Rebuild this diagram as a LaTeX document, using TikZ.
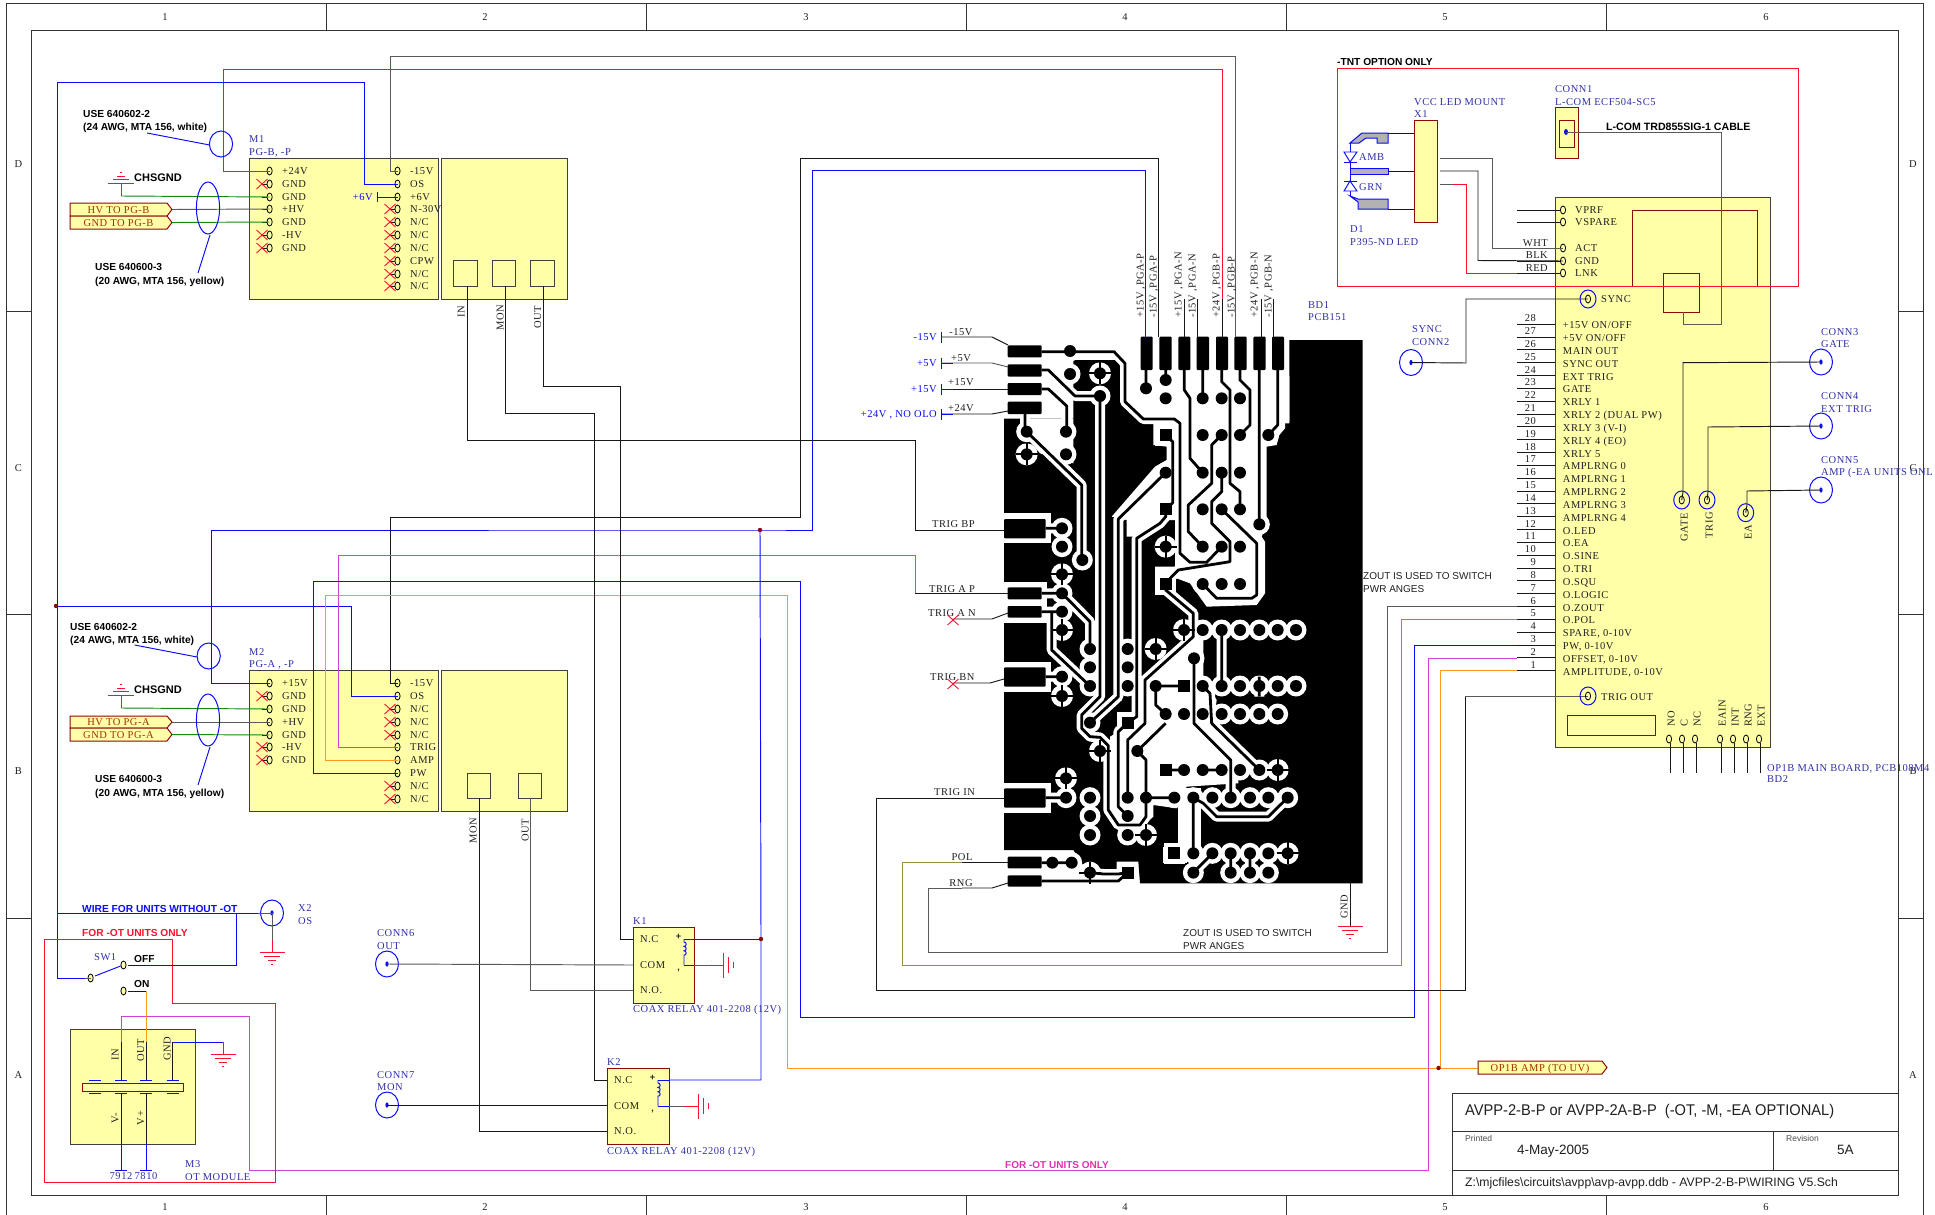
\documentclass[tikz,border=0pt]{standalone}
\usepackage{fontspec}
\setmainfont{Liberation Serif}[LetterSpace=5]
\newfontfamily\hs{Liberation Sans}
\newfontfamily\hsn{Liberation Sans}[FakeStretch=.945]
\newcounter{nn}
\definecolor{wy}{HTML}{FFFFA8}
\definecolor{dr}{HTML}{8A0A0A}
\definecolor{nv}{HTML}{3030A8}
\definecolor{tx}{HTML}{202020}
\definecolor{wb}{HTML}{0A0AFF}
\definecolor{wg}{HTML}{5A5A5A}
\definecolor{wr}{HTML}{FF1030}
\definecolor{wm}{HTML}{D040D8}
\definecolor{wo}{HTML}{FF9A20}
\definecolor{wgn}{HTML}{108A10}
\definecolor{wol}{HTML}{A08A40}
\definecolor{tg}{HTML}{A03000}
\tikzset{
 lab/.style={anchor=west,inner sep=0pt,text height=7pt,text depth=0pt,text=tx,font=\fontsize{10.5}{11}\selectfont},
 blu/.style={lab,text=nv},
 bblu/.style={lab,text=wb},
 bld/.style={lab,font=\hs\bfseries\fontsize{10.2}{11}\selectfont,text=black},
 rt/.style={lab,anchor=center,rotate=90},
 box/.style={draw=black!75,fill=wy,line width=1pt},
 rbox/.style={draw=dr,fill=wy,line width=1pt},
 wire/.style={line width=.95pt,line join=miter},
 wk/.style={wire,draw=black!90},
 wgy/.style={wire,draw=wg},
 wbl/.style={wire,draw=wb},
 wrd/.style={wire,draw=wr},
 wmg/.style={wire,draw=wm},
 wor/.style={wire,draw=wo},
 wgr/.style={wire,draw=wgn},
 wolv/.style={wire,draw=wol},
 pinst/.style={draw=black,line width=.8pt,fill=none},
 ring/.style={draw=wb,line width=1pt,fill=none},
 xx/.style={draw=wr,line width=.9pt},
}
\newcommand{\lb}[4][lab]{\stepcounter{nn}\node[#1,name=n\thenn] at (#2,#3) {#4};}
\newcommand{\pin}[3]{\coordinate (#1) at (#2,#3);\draw[pinst,fill=wy] (#2,#3) ellipse [x radius=2.6pt,y radius=4pt];}
\newcommand{\xm}[2]{\draw[xx] (#1-5.5,#2-5) -- (#1+5.5,#2+5) (#1-5.5,#2+5) -- (#1+5.5,#2-5);}
\newcommand{\gnd}[2]{\draw[draw=wr,line width=.9pt] (#1-12.5,#2) -- (#1+12.5,#2) (#1-8,#2+4) -- (#1+8,#2+4) (#1-4,#2+8) -- (#1+4,#2+8) (#1-1,#2+12) -- (#1+1,#2+12);}
\newcommand{\gndup}[2]{\draw[draw=wr,line width=.9pt] (#1-13,#2) -- (#1+13,#2) (#1-8,#2-3.5) -- (#1+8,#2-3.5) (#1-4,#2-7) -- (#1+4,#2-7) (#1-1,#2-11) -- (#1+1,#2-11);}
\newcommand{\gndr}[2]{\draw[draw=wr,line width=.9pt] (#1,#2-12.5) -- (#1,#2+12.5) (#1+5,#2-8) -- (#1+5,#2+8) (#1+10,#2-3) -- (#1+10,#2+3);}
\newcommand{\conn}[3]{\coordinate (#1) at (#2,#3);\draw[ring] (#2,#3) ellipse [x radius=11.5pt,y radius=13pt];\fill[wb] (#2,#3) ellipse [x radius=1.6pt,y radius=2.6pt];}
\newcommand{\cpin}[3]{\coordinate (#1) at (#2,#3);\draw[ring] (#2,#3) ellipse [x radius=8pt,y radius=9pt];\draw[pinst] (#2,#3) ellipse [x radius=2.6pt,y radius=4pt];}
\newcommand{\tagbox}[5]{\draw[draw=dr,fill=wy,line width=1pt] (#1,#2) -- (#3-5,#2) -- (#3,{(#2+#4)/2}) -- (#3-5,#4) -- (#1,#4) -- cycle;
 \stepcounter{nn}\node[lab,anchor=center,text=tg,name=n\thenn] at ({(#1+#3-5)/2},{(#2+#4)/2}) {#5};}
\newcommand{\coil}[2]{\draw[wbl] (#1,#2) -- ++(0,3) arc[start angle=90,end angle=-90,radius=2.2pt] arc[start angle=90,end angle=-90,radius=2.2pt] arc[start angle=90,end angle=-90,radius=2.2pt] -- ++(0,10);}
\begin{document}
\begin{tikzpicture}[x=1pt,y=-1pt]
\useasboundingbox (0,0) rectangle (1935,1215);
\fill[white] (0,0) rectangle (1935,1215);
% ---- frame
\draw[black!80,line width=1pt] (6,4) -- (1923,4) -- (1923,1216) (6,4) -- (6,1216);
\draw[black!80,line width=1pt] (31,31) rectangle (1898,1195);
\foreach \x in {326,646,966,1286,1606} {\draw[black!80,line width=1pt] (\x,4) -- (\x,31) (\x,1195) -- (\x,1216);}
\foreach \y in {311,614,918} {\draw[black!80,line width=1pt] (6,\y) -- (31,\y) (1898,\y) -- (1923,\y);}
\foreach \x/\t in {165/1,485/2,806/3,1125/4,1445/5,1766/6} {\lb[lab,anchor=center]{\x}{17}{\t}\lb[lab,anchor=center]{\x}{1207}{\t}}
\foreach \y/\t in {164/D,468/C,771/B,1075/A} {\lb[lab,anchor=center]{18.5}{\y}{\t}\lb[lab,anchor=center]{1913}{\y}{\t}}
% ---- PCB artwork
\begin{scope}[shift={(990,320)},x=.33333pt,y=-.33333pt]
 \fill[black] (42,296) -- (250,296) -- (250,120) -- (385,120) -- (395,135) -- (395,250) -- (450,305) -- (898,305) -- (898,60) -- (1118,60) -- (1118,1690) -- (450,1690) -- (445,1625) -- (380,1625) -- (380,1652) -- (290,1652) -- (250,1590) -- (42,1590) -- cycle;
 \fill[white] (460,300) -- (885,300) -- (885,325) -- (868,345) -- (860,375) -- (830,380) -- (830,610) -- (815,650) -- (825,665) -- (825,820) -- (800,855) -- (650,860) -- (600,790) -- (560,775) -- (560,760) -- (495,760) -- (495,740) -- (555,740) -- (555,600) -- (510,600) -- (445,650) -- (410,650) -- (410,600) -- (365,590) -- (495,440) -- (530,420) -- (530,380) -- (490,375) -- (490,310) -- cycle;
 \fill[white] (898,168) -- (885,170) -- (885,310) -- (898,310) -- cycle;
 \fill[white] (90,296) -- (250,296) -- (250,430) -- (150,400) -- (100,340) -- cycle;
 \fill[white] (40,580) -- (182,580) -- (182,670) -- (40,670) -- cycle;
 \fill[white] (40,785) -- (170,785) -- (170,908) -- (40,908) -- cycle;
 \fill[white] (40,1025) -- (182,1025) -- (182,1115) -- (40,1115) -- cycle;
 \fill[white] (40,1388) -- (182,1388) -- (182,1480) -- (40,1480) -- cycle;
 \fill[white] (470,1080) -- (615,950) -- (640,940) -- (640,1080) -- (680,1140) -- (670,1210) -- (790,1320) -- (745,1370) -- (745,1390) -- (590,1400) -- (565,1440) -- (560,1465) -- (490,1455) -- (490,1490) -- (450,1525) -- (385,1525) -- (360,1480) -- (360,1250) -- (395,1230) -- (440,1180) -- (470,1210) -- cycle;
 \fill[white] (565,1405) rectangle (632,1590);
 \fill[white] (520,1580) rectangle (590,1630);
 \def\pcbtraces{
  (155,95) -- (372,95) -- (405,130) -- (405,245) -- (460,297) -- (553,297) -- (570,310) -- (570,700) -- (600,727) -- (650,727) -- (695,680)
  (155,150) -- (175,150) -- (255,228) -- (330,228)
  (155,207) -- (175,207) -- (230,258) -- (230,335)
  (105,282) -- (105,335)
  (110,335) -- (275,495) -- (275,720)
  (330,228) -- (330,1130) -- (275,1185) -- (275,1225) -- (300,1250) -- (330,1252) -- (355,1277) -- (355,1470) -- (385,1515) -- (450,1515) -- (468,1490) -- (468,1433)
  (527,458) -- (385,597) -- (385,1130) -- (300,1208)
  (527,345) -- (548,365) -- (548,548) -- (527,568)
  (527,568) -- (527,590) -- (510,610) -- (440,655) -- (440,1190) -- (413,1208) -- (385,1235) -- (385,1460) -- (413,1488)
  (527,792) -- (527,810) -- (610,880) -- (610,950) -- (465,1080) -- (465,1210) -- (413,1260) -- (413,1433)
  (612,1015) -- (612,1210) -- (722,1320) -- (722,1433)
  (638,1098) -- (660,1120) -- (665,1210) -- (808,1350)
  (695,930) -- (695,1098)
  (497,1098) -- (582,1098)
  (497,1098) -- (497,1155) -- (527,1182)
  (527,1210) -- (442,1293) -- (468,1320) -- (468,1433) -- (553,1433)
  (527,1350) -- (582,1350) (638,1350) -- (695,1350)
  (610,1433) -- (610,1600) (610,1658) -- (667,1600) (722,1600) -- (722,1658) (780,1600) -- (780,1658)
  (610,1433) -- (640,1450) -- (680,1490) -- (835,1490) -- (893,1433)
  (185,875) -- (185,990) -- (300,1098)
  (216,820) -- (300,905) -- (300,987)
  (216,625) -- (167,625) (216,1070) -- (167,1070) (228,1433) -- (167,1433) (216,875) -- (155,875) (216,820) -- (155,820)
  (155,1628) -- (245,1628) (300,1658) -- (340,1662) -- (385,1662) -- (413,1658)
  (155,1683) -- (385,1683) -- (413,1658)
  (468,205) -- (468,150) (527,180) -- (527,150)
  (583,150) -- (583,210) -- (600,235) -- (600,415) -- (638,458)
  (638,150) -- (638,235)
  (695,150) -- (695,185) -- (720,210) -- (720,490) -- (750,515) -- (750,568)
  (750,150) -- (750,180) -- (780,210) -- (780,315) -- (750,345)
  (808,150) -- (808,613)
  (863,150) -- (863,315) -- (835,345)
  (695,345) -- (665,375) -- (665,490) -- (595,555) -- (595,635) -- (638,680)
  (695,458) -- (695,515) -- (665,545) -- (665,610) -- (720,665) -- (720,725) -- (565,750) -- (545,770) -- (527,792)
  (695,568) -- (800,670) -- (800,825) -- (785,835) -- (680,835) -- (638,792)
  (808,1070) -- (808,1130)
 }
 \draw[white,line width=10pt,line join=bevel] \pcbtraces;
 \def\pcbpads{240/93,240/162,330/228,110/335,228/335,228/403,468/205,527/180,527/235,638/235,695/235,750/235,638/345,695/345,750/345,835/345,527/458,638/458,695/458,750/458,638/568,695/568,750/568,808/613,638/680,695/680,750/680,638/792,695/792,750/792,216/625,216/680,277/720,216/820,216/875,300/987,300/1042,300/1098,413/987,413/1042,413/1098,216/1070,300/1208,442/1293,638/930,695/930,750/930,808/930,863/930,918/930,612/1015,497/1098,638/1098,695/1098,750/1098,808/1098,863/1098,918/1098,527/1182,582/1182,638/1182,695/1182,750/1182,808/1182,863/1182,582/1350,638/1350,695/1350,750/1350,808/1350,413/1433,468/1433,553/1433,610/1433,667/1433,722/1433,780/1433,835/1433,893/1433,228/1433,300/1433,300/1488,300/1545,413/1488,413/1545,610/1600,667/1600,722/1600,780/1600,835/1600,610/1658,722/1658,780/1658,835/1658,187/1628,245/1628}
 \def\pcbth{330/160,110/403,527/680,216/763,216/930,497/987,582/930,216/1128,330/1293,863/1350,228/1375,468/1545,893/1600,300/1658}
 \def\pcbsq{527/345,527/568,527/792,582/1098,413/1208,527/1350,553/1600,413/1658}
 \foreach \a/\b in \pcbpads {\fill[white] (\a,\b) circle [radius=10.5pt];}
 \foreach \a/\b in \pcbth {\fill[white] (\a,\b) circle [radius=11pt];}
 \foreach \a/\b in \pcbsq {\fill[white] (\a-32,\b-32) rectangle (\a+32,\b+32);}
 % connector pads halo
 \fill[white] (40,68) rectangle (167,295);
 \foreach \xa/\ya/\xb/\yb in {53/76/155/112,53/133/155/170,53/189/155/225,53/245/155/282,42/597/167/655,53/802/155/838,53/858/155/893,42/1042/167/1100,42/1405/167/1463,53/1610/155/1645,53/1666/155/1700,452/50/488/150,508/50/545/150,565/50/601/150,620/50/657/150,678/50/714/150,733/50/770/150,790/50/827/150,846/50/882/150} {\fill[black,rounded corners=1pt] (\xa,\ya) rectangle (\xb,\yb);}
 \draw[black,line width=2.8pt,line join=bevel] \pcbtraces;
 \foreach \a/\b in \pcbpads {\fill[black] (\a,\b) circle [radius=6pt];}
 \foreach \a/\b in \pcbth {\fill[black] (\a,\b) circle [radius=6pt];\draw[black,line width=2pt] (\a-33,\b) -- (\a+33,\b) (\a,\b-33) -- (\a,\b+33);}
 \foreach \a/\b in \pcbsq {\fill[black] (\a-18,\b-18) rectangle (\a+18,\b+18);}
\end{scope}
% ---- boxes
\fill[box] (249,158) rectangle (438,299);
\fill[box] (441,158) rectangle (567,299);
\fill[box] (453.6,260) rectangle (477.5,286);
\fill[box] (492.5,260) rectangle (515.7,286);
\fill[box] (530,260) rectangle (554,286);
\fill[box] (249,670) rectangle (438,811);
\fill[box] (441,670) rectangle (567,811);
\fill[box] (467,773) rectangle (490,798);
\fill[box] (518,773) rectangle (541,798);
\fill[box] (70,1029) rectangle (195,1144);
\fill[rbox] (633,927) rectangle (694,1003);
\fill[rbox] (607,1068) rectangle (669,1144);
\fill[box] (1555,197) rectangle (1770,747);
\fill[rbox] (1414,120) rectangle (1437,222);
\fill[rbox] (1555,107) rectangle (1578,158);
\fill[rbox] (1559,120) rectangle (1574,147);
\draw[dr,line width=1pt] (1632,286) -- (1632,210) -- (1757,210) -- (1757,286);
\draw[dr,line width=1pt] (1663,273) rectangle (1699,312);
\draw[dr,line width=1pt] (1567,715) rectangle (1655,735);
% ---- pins M1/M2
\foreach \i/\y in {1/171,2/184,3/197,4/209,5/222,6/235,7/248,8/261,9/274,10/286} {\pin{m1r\i}{397.5}{\y}\draw[wk] (390,\y) -- (395,\y);}
\foreach \i/\y in {1/171,2/184,3/197,4/209,5/222,6/235,7/248} {\pin{m1l\i}{269.6}{\y}\draw[wk] (262,\y) -- (267,\y);}
\foreach \i/\y in {1/683,2/696,3/709,4/722,5/735,6/747,7/760,8/773,9/786,10/799} {\pin{m2r\i}{397.5}{\y}\draw[wk] (390,\y) -- (395,\y);}
\foreach \i/\y in {1/683,2/696,3/709,4/722,5/735,6/747,7/760} {\pin{m2l\i}{269.6}{\y}\draw[wk] (262,\y) -- (267,\y);}
\foreach \y in {184,235,248,696,747,760} {\xm{262}{\y}}
\foreach \y in {209,222,235,248,261,274,286,709,722,735,786,799} {\xm{390}{\y}}
\foreach \y/\t in {171/+24V,184/GND,197/GND,209/+HV,222/GND,235/-HV,248/GND,683/+15V,696/GND,709/GND,722/+HV,735/GND,747/-HV,760/GND} {\lb{282}{\y}{\t}}
\foreach \y/\t in {171/-15V,184/OS,197/+6V,209/N-30V,222/{N/C},235/{N/C},248/{N/C},261/CPW,274/{N/C},286/{N/C},683/-15V,696/OS,709/{N/C},722/{N/C},735/{N/C},747/TRIG,760/AMP,773/PW,786/{N/C},799/{N/C}} {\lb{410}{\y}{\t}}
\lb[blu]{249}{139}{M1}\lb[blu]{249}{152}{PG-B, -P}
\lb[blu]{249}{652}{M2}\lb[blu]{249}{664}{PG-A , -P}
\lb[rt]{461}{312}{IN}\lb[rt]{500}{318}{MON}\lb[rt]{537.5}{317}{OUT}
\lb[rt]{473}{831}{MON}\lb[rt]{525}{830}{OUT}
\lb[blu,anchor=east,text=wb]{373}{197}{+6V}
\coordinate (p6v) at (377.5,197);
\draw[wbl] (377.5,192) -- (377.5,202);
\draw[wbl] (p6v) -- (m1r3);
% ---- cable notes
\lb[bld]{83}{114}{USE 640602-2}\lb[bld]{83}{127}{(24 AWG, MTA 156, white)}
\lb[bld]{95}{267}{USE 640600-3}\lb[bld]{95}{281}{(20 AWG, MTA 156, yellow)}
\lb[bld]{70}{627}{USE 640602-2}\lb[bld]{70}{640}{(24 AWG, MTA 156, white)}
\lb[bld]{95}{779}{USE 640600-3}\lb[bld]{95}{793}{(20 AWG, MTA 156, yellow)}
\lb[bld,font=\hs\bfseries\fontsize{11}{11}\selectfont]{134}{178}{CHSGND}\lb[bld,font=\hs\bfseries\fontsize{11}{11}\selectfont]{134}{690}{CHSGND}
\gndup{121.4}{183}\gndup{121.4}{695}
\tagbox{70}{203}{172}{216}{HV TO PG-B}\tagbox{70}{216}{172}{229}{GND TO PG-B}
\tagbox{70}{716}{172}{728}{HV TO PG-A}\tagbox{70}{728}{172}{741}{GND TO PG-A}
\coordinate (g1) at (121.4,183);\coordinate (g2) at (121.4,695);
\coordinate (t1) at (172,209.5);\coordinate (t2) at (172,222.5);\coordinate (t3) at (172,722);\coordinate (t4) at (172,734.5);
\draw[wr] (g1) -- (121.4,196);\draw[wr] (g2) -- (121.4,708);
\draw[wgr] (121.4,196) -- (m1l3);\draw[wgr] (121.4,708) -- (m2l3);
\draw[wgy] (t1) -- (m1l4);\draw[wgr] (t2) -- (m1l5);\draw[wgy] (t3) -- (m2l4);\draw[wgr] (t4) -- (m2l5);
% ---- long wires
\draw[wrd] (m1l1) -- (223,171) -- (223,69) -- (1222,69) -- (1222,299);
\draw[wk] (1222,299) -- (1222,337);
\draw[wgy] (m1r1) -- (390,171) -- (390,56) -- (1235,56) -- (1235,337);
\draw[wbl] (m1r2) -- (364,184) -- (364,82) -- (57,82) -- (57,978) -- (85,978);
\coordinate (jl) at (56,606);\coordinate (jm) at (760,530);\coordinate (jk) at (761,939);\coordinate (ja) at (1438.5,1068);
\draw[wbl] (m2r2) -- (351,696) -- (351,606) -- (jl);
\draw[wbl] (m2l1) -- (211,683) -- (211,530) -- (jm) -- (812,530) -- (812,170) -- (1145,170) -- (1145,337);
\draw[wk] (m2r1) -- (390,683) -- (390,517) -- (800,517) -- (800,158) -- (1158,158) -- (1158,337);
\draw[wmg] (m2r6) -- (338.6,747) -- (338.6,555) -- (915,555) -- (915,593);
\draw[wk] (915,593) -- (1008,593);
\draw[wor] (m2r7) -- (325.7,760) -- (325.7,595) -- (787,595) -- (787,1068) -- (ja);
\draw[wbl] (m2r8) -- (313,773) -- (313,581) -- (800,581) -- (800,1017) -- (1414,1017) -- (1414,645) -- (1517,645);
\draw[wmg] (1517,658) -- (1428,658) -- (1428,1170) -- (249.5,1170) -- (249.5,1016) -- (121,1016) -- (121,1042);
\draw[wor] (ja) -- (1440,1068) -- (1440,670.5) -- (1517,670.5);
\draw[wor] (ja) -- (1478,1068);
\draw[wolv] (962,862) -- (902,862) -- (902,965) -- (1401,965) -- (1401,619) -- (1517,619);
\draw[wk] (962,862) -- (1008,862);
\draw[wgy] (962,888) -- (928,888) -- (928,952) -- (1387,952) -- (1387,606) -- (1517,606);
\draw[wk] (962,888) -- (992,888) -- (1008,883);
\draw[wk] (1004,798) -- (876,798) -- (876,990) -- (1465,990) -- (1465,696);
\draw[wgy] (1465,696) -- (1588,696);
\draw[wk] (467,286) -- (467,440) -- (915,440) -- (915,530) -- (1004,530);
\draw[wk] (505,286) -- (505,413) -- (594.7,413) -- (594.7,1080) -- (607,1080);
\draw[wk] (543.6,286) -- (543.6,386) -- (620,386) -- (620,939) -- (633,939);
\draw[wk] (479.6,798) -- (479.6,1131) -- (607,1131);
\draw[wgy] (530.7,798) -- (530.7,990) -- (633,990);
\draw[wbl] (jm) -- (jk) -- (761,1080) -- (670,1080);
\draw[wbl] (694,939) -- (jk);
\fill[dr] (jl) circle [radius=2.2pt];\fill[dr] (jm) circle [radius=2.2pt];\fill[dr] (jk) circle [radius=2.2pt];\fill[dr] (ja) circle [radius=2.2pt];
% ---- PCB left labels
\foreach \y/\yy/\t/\b in {337/332/-15V/-15V,363/358/+5V/+5V,389/382/+15V/+15V,414/408/+24V/{+24V , NO OLO}} {\lb[bblu,anchor=east]{937}{\y}{\b}\draw[wbl] (941,\y-5.5) -- (941,\y+5.5);\lb[lab,anchor=center]{961}{\yy}{\t}}
\draw[wk] (941,337) -- (992,337) -- (1008,345);
\draw[wgy] (941,363) -- (992,363) -- (1008,367);
\draw[wk] (941,389) -- (1008,389);
\draw[wk] (941,414) -- (992,414) -- (1008,411);
\draw[wbl] (941,363) -- (953,363) (941,389) -- (953,389) (941,414) -- (953,414);
\lb{932}{524}{TRIG BP}\lb{929}{589}{TRIG A P}\lb{928}{613}{TRIG A N}\lb{930}{677}{TRIG BN}\lb{934}{792}{TRIG IN}
\lb[lab,anchor=center]{962}{857}{POL}\lb[lab,anchor=center]{961}{883}{RNG}
\coordinate (xa) at (953,619);\coordinate (xb) at (953,683);
\draw[wk] (xa) -- (992,619) -- (1008,613);
\draw[wk] (xb) -- (990,683) -- (1004,679);
\xm{953}{620}\xm{953}{684}
\foreach \x/\t in {1140/{+15V ,PGA-P},1153/{-15V ,PGA-P},1178/{+15V ,PGA-N},1192/{-15V ,PGA-N},1216/{+24V ,PGB-P},1231/{-15V ,PGB-P},1254/{+24V ,PGB-N},1268/{-15V ,PGB-N}} {\lb[rt,anchor=west]{\x}{318}{\t}}
\foreach \x in {1184,1197,1261,1273} {\draw[wk] (\x,299) -- (\x,337);}
\lb[blu]{1308}{305}{BD1}\lb[blu]{1308}{317}{PCB151}
\lb[rt]{1344}{907}{GND}
\draw[wk] (1350,883) -- (1350,926);\gnd{1350}{926}
\lb[lab,font=\hs\fontsize{10}{11}\selectfont]{1183}{933}{ZOUT IS USED TO SWITCH}\lb[lab,font=\hs\fontsize{10}{11}\selectfont]{1183}{946}{PWR ANGES}
\lb[lab,font=\hs\fontsize{10}{11}\selectfont]{1363}{576}{ZOUT IS USED TO SWITCH}\lb[lab,font=\hs\fontsize{10}{11}\selectfont]{1363}{589}{PWR ANGES}
% ---- relays
\foreach \n/\x/\y/\t in {1/633/921/K1,2/607/1062/K2} {\lb[blu]{\x}{\y}{\t}}
\lb[blu]{633}{1009}{COAX RELAY 401-2208 (12V)}\lb[blu]{607}{1151}{COAX RELAY 401-2208 (12V)}
\foreach \y/\t in {939/N.C,965/COM,990/N.O.} {\lb{640}{\y}{\t}}
\foreach \y/\t in {1080/N.C,1106/COM,1131/N.O.} {\lb{614}{\y}{\t}}
\conn{cn6}{387}{964}\conn{cn7}{387}{1105}
\draw[wgy] (cn6) -- (633,965);\draw[wk] (cn7) -- (607,1105);
\lb[blu]{377}{933}{CONN6}\lb[blu]{377}{946}{OUT}
\lb[blu]{377}{1075}{CONN7}\lb[blu]{377}{1087}{MON}
\draw[wbl] (684,939) -- (694,939);\draw[wbl] (684,965) -- (694,965);
\coil{684}{939}
\draw[wbl] (658,1080) -- (670,1080);\draw[wbl] (658,1106) -- (670,1106);
\coil{658}{1080}
\coordinate (gk1) at (723,965);\coordinate (gk2) at (698,1106);
\draw[wgy] (694,965) -- (711,965);\draw[wrd] (711,965) -- (gk1);\gndr{723}{965}
\draw[wgy] (669,1106) -- (684,1106);\draw[wrd] (684,1106) -- (gk2);\gndr{698}{1106}
\lb[lab,anchor=center,font=\hs\bfseries\fontsize{9}{9}\selectfont]{678.6}{936}{+}\lb[lab,anchor=center,font=\hs\bfseries\fontsize{9}{9}\selectfont]{678.6}{967}{,}
\lb[lab,anchor=center,font=\hs\bfseries\fontsize{9}{9}\selectfont]{652.6}{1077}{+}\lb[lab,anchor=center,font=\hs\bfseries\fontsize{9}{9}\selectfont]{652.6}{1108}{,}
% ---- X2, SW1, M3
\conn{x2}{272}{913}
\lb[blu]{298}{908}{X2}\lb[blu]{298}{921}{OS}
\lb[bld,text=wb]{82}{909}{WIRE FOR UNITS WITHOUT -OT}
\lb[bld,text=wr]{82}{933}{FOR -OT UNITS ONLY}
\draw[wbl] (57,913) -- (258,913);\draw[wgy] (258,913) -- (x2);
\draw[wgy] (x2) -- (272,940);\draw[wrd] (272,940) -- (272,952);\gnd{272}{952}
\draw[wr,line width=1pt] (44.5,939) -- (172.5,939) -- (172.5,1003) -- (275,1003) -- (275,1182) -- (44.5,1182) -- cycle;
\lb[blu]{94}{957}{SW1}\lb[bld]{134}{959}{OFF}\lb[bld]{134}{984}{ON}
\pin{swa}{90.6}{978}\pin{swb}{123.5}{965}\pin{swc}{123.5}{991}
\draw[wbl] (95,976) -- (120.6,966);
\draw[wgy] (85,978) -- (swa);
\draw[wk] (128,965) -- (146,965);\draw[wbl] (146,965) -- (236.5,965) -- (236.5,913);
\draw[wk] (128,991) -- (146,991);\draw[wor] (146,991) -- (146,1042);
\fill[rbox] (82,1083) rectangle (183,1091);
\foreach \x in {95.4,121,146,172.5} {\draw[wbl] (\x-6,1080) -- (\x+6,1080) (\x-6,1093) -- (\x+6,1093);}
\foreach \x in {121,146,172.5} {\draw[wk] (\x,1042) -- (\x,1080);}
\foreach \x in {121,146} {\draw[wk] (\x,1093) -- (\x,1144);\draw[wbl] (\x,1144) -- (\x,1170);\draw[wbl] (\x-6,1170) -- (\x+6,1170);}
\draw[wbl] (172.5,1042) -- (223.4,1042);\draw[wrd] (223.4,1042) -- (223.4,1054);\gnd{223.4}{1054}
\lb[rt]{115}{1055}{IN}\lb[rt]{140.5}{1050}{OUT}\lb[rt]{167}{1049}{GND}\lb[rt]{115}{1118}{V-}\lb[rt]{140.5}{1118}{V+}
\lb[blu,anchor=center]{121}{1176}{7912}\lb[blu,anchor=center]{146}{1176}{7810}
\lb[blu]{185}{1164}{M3}\lb[blu]{185}{1177}{OT MODULE}
\lb[lab,font=\hs\bfseries\fontsize{10}{11}\selectfont,text=wm!80!red]{1005}{1165}{FOR -OT UNITS ONLY}
% ---- cable ellipses
\draw[ring] (221,144) ellipse [x radius=11.6pt,y radius=13pt];
\draw[wbl] (147,133) -- (209.6,145);
\draw[ring] (208,208) ellipse [x radius=11.6pt,y radius=26pt];
\draw[wbl] (210,235) -- (198,273);
\draw[ring] (208.7,656) ellipse [x radius=11.6pt,y radius=13pt];
\draw[wbl] (134.6,645) -- (197,657);
\draw[ring] (208,720) ellipse [x radius=11.6pt,y radius=26pt];
\draw[wbl] (210,747) -- (198,785);
% ---- TNT option
\lb[bld]{1337}{62}{-TNT OPTION ONLY}
\lb[blu]{1555}{89}{CONN1}\lb[blu]{1555}{102}{L-COM ECF504-SC5}
\lb[bld,font=\hs\bfseries\fontsize{10.6}{11}\selectfont]{1606}{127}{L-COM TRD855SIG-1 CABLE}
\lb[blu]{1414}{102}{VCC LED MOUNT}\lb[blu]{1414}{114}{X1}
\coordinate (cn1) at (1566,132);
\fill[wb] (cn1) ellipse [x radius=2pt,y radius=3pt];
\draw[wgy] (cn1) -- (1721.7,132) -- (1721.7,324.3) -- (1683,324.3) -- (1683,312);
\fill[black!30,draw=wb,line width=1pt] (1350,143) -- (1362,133) -- (1388,133) -- (1388,143) -- (1377,143) -- (1377,138) -- (1366,138) -- (1359,143) -- cycle;
\fill[black!30,draw=wb,line width=1pt] (1350,168) rectangle (1388,174);
\fill[black!30,draw=wb,line width=1pt] (1350,196) -- (1358,202) -- (1358,209) -- (1388,209) -- (1388,199) -- (1358,199) -- (1350,196) -- cycle;
\draw[wk] (1388,133) -- (1414,133) (1388,171) -- (1414,171) (1388,209) -- (1414,209);
\draw[wbl] (1350,143) -- (1350,168) (1350,174) -- (1350,196);
\draw[wbl,fill=white] (1344,152) -- (1357,152) -- (1350,162) -- cycle;\draw[wbl] (1344,162) -- (1357,162);
\draw[wbl,fill=white] (1344,191) -- (1357,191) -- (1350,181) -- cycle;\draw[wbl] (1344,181) -- (1357,181);
\lb[blu]{1359}{157}{AMB}\lb[blu]{1359}{187}{GRN}
\lb[blu]{1350}{229}{D1}\lb[blu]{1350}{242}{P395-ND LED}
\foreach \n/\y/\t in {vprf/210/VPRF,vsp/222/VSPARE,act/248/ACT,gnd/261/GND,lnk/273/LNK} {\pin{\n}{1563}{\y}\draw[wk] (1517,\y) -- (1560,\y);\lb{1575}{\y}{\t}}
\draw[wgy] (1440,158) -- (1492,158) -- (1492,248) -- (act);
\draw[wk] (1440,171) -- (1478,171) -- (1478,260.5) -- (gnd);
\draw[wgy] (1440,184) -- (1453,184);\draw[wrd] (1453,184) -- (1466,184) -- (1466,273) -- (1517,273);
\foreach \y/\t in {243/WHT,255/BLK,268/RED} {\lb[lab,anchor=east]{1548}{\y}{\t}}
\draw[wr,line width=1pt] (1337,69) rectangle (1798,286);
\cpin{sy}{1588}{299}\lb{1601}{299}{SYNC}
\conn{cn2}{1411}{362.5}
\draw[wk] (sy) -- (1466,299) -- (1466,363) -- (cn2);
\lb[blu]{1412}{329}{SYNC}\lb[blu]{1412}{342}{CONN2}
% ---- BD2 numbered pins
\foreach \n/\t in {28/{+15V ON/OFF},27/{+5V ON/OFF},26/MAIN OUT,25/SYNC OUT,24/EXT TRIG,23/GATE,22/XRLY 1,21/{XRLY 2 (DUAL PW)},20/{XRLY 3 (V-I)},19/{XRLY 4 (EO)},18/XRLY 5,17/AMPLRNG 0,16/AMPLRNG 1,15/AMPLRNG 2,14/AMPLRNG 3,13/AMPLRNG 4,12/O.LED,11/O.EA,10/O.SINE,9/O.TRI,8/O.SQU,7/O.LOGIC,6/O.ZOUT,5/O.POL,4/{SPARE, 0-10V},3/{PW, 0-10V},2/{OFFSET, 0-10V},1/{AMPLITUDE, 0-10V}} {
 \pgfmathsetmacro\yy{324.3+(28-\n)*12.83}
 \draw[wk] (1517,\yy) -- (1555,\yy);
 \lb[lab,anchor=east]{1536}{\yy-6}{\n}
 \lb{1562.7}{\yy+1}{\t}
}
\cpin{tro}{1588}{696}\lb{1601}{696.5}{TRIG OUT}
\cpin{gt}{1681.7}{500}\cpin{tr}{1707}{500}\cpin{ea}{1745.7}{512.7}
\lb[rt]{1684}{527}{GATE}\lb[rt]{1709}{525}{TRIG}\lb[rt]{1748}{532}{EA}
\conn{cn3}{1821}{362}\conn{cn4}{1821}{426}\conn{cn5}{1821}{490}
\draw[wk] (gt) -- (1683,492) -- (1683,362.7) -- (cn3);
\draw[wk] (tr) -- (1708,492) -- (1708,427) -- (cn4);
\draw[wk] (ea) -- (1747,505) -- (1747,491) -- (cn5);
\lb[blu]{1821}{332}{CONN3}\lb[blu]{1821}{344}{GATE}
\lb[blu]{1821}{396}{CONN4}\lb[blu]{1821}{409}{EXT TRIG}
\lb[blu]{1821}{460}{CONN5}\lb[blu]{1821}{472}{AMP (-EA UNITS ONL}
\foreach \n/\x/\t in {a/1669/NO,b/1682/C,c/1695/NC,d/1720/EAIN,e/1733/INT,f/1746/RNG,g/1759/EXT} {
 \pin{bp\n}{\x}{739}\draw[wk] (\x+1,743) -- (\x+1,773);
 \lb[rt,anchor=west]{\x+2}{727}{\t}
}
\lb[blu]{1767}{768}{OP1B MAIN BOARD, PCB108M4}\lb[blu]{1767}{779}{BD2}
\tagbox{1478}{1061}{1607}{1074}{OP1B AMP (TO UV)}
% ---- title block
\draw[black!80,line width=1pt] (1452.7,1195) -- (1452.7,1093) -- (1898,1093) (1452.7,1131) -- (1898,1131) (1452.7,1170) -- (1898,1170) (1773,1131) -- (1773,1170);
\lb[lab,font=\hsn\fontsize{15.5}{16}\selectfont,text height=11pt]{1465}{1110}{AVPP-2-B-P or AVPP-2A-B-P\ \ (-OT, -M, -EA OPTIONAL)}
\lb[lab,font=\hs\fontsize{8.5}{9}\selectfont,text=black!70]{1465}{1138}{Printed}
\lb[lab,font=\hs\fontsize{8.5}{9}\selectfont,text=black!70]{1786}{1138}{Revision}
\lb[lab,font=\hs\fontsize{13.5}{14}\selectfont,text height=10pt]{1517}{1149}{4-May-2005}
\lb[lab,font=\hs\fontsize{13.5}{14}\selectfont,text height=10pt]{1837}{1149}{5A}
\lb[lab,font=\hs\fontsize{12.2}{13}\selectfont,text height=8pt]{1465}{1182}{Z:\textbackslash mjcfiles\textbackslash circuits\textbackslash avpp\textbackslash avp-avpp.ddb - AVPP-2-B-P\textbackslash WIRING V5.Sch}
\end{tikzpicture}
\end{document}
